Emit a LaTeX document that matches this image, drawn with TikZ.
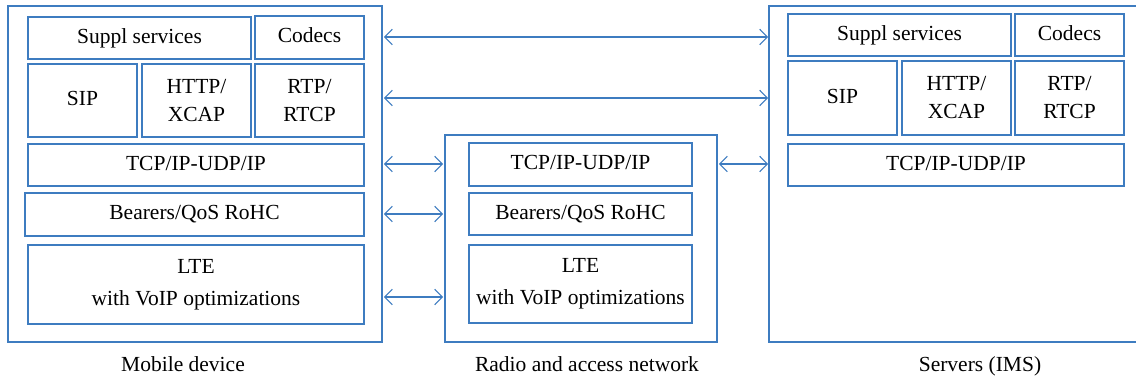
\documentclass[tikz,border=0pt]{standalone}
\usepackage{fontspec}
\setmainfont{Liberation Serif}
\usetikzlibrary{arrows.meta}
\definecolor{lineblue}{RGB}{62,124,192}
\tikzset{
  box/.style={draw=lineblue, line width=1.2pt, inner sep=0pt, outer sep=0pt, align=center,
    font=\fontsize{21.5}{28}\selectfont},
  one/.style={text height=14pt, text depth=3pt},
  outer/.style={draw=lineblue, line width=1.2pt, inner sep=0pt, outer sep=0pt},
  lbl/.style={font=\fontsize{21.5}{24}\selectfont, inner sep=0pt, anchor=base},
  arr/.style={draw=lineblue, line width=1.1pt, {Straight Barb[length=7.5pt,width=15.5pt]}-{Straight Barb[length=7.5pt,width=15.5pt]}}
}
\newcommand\mkbox[7][]{\node[box,#1, minimum width={(#5-#3)*1pt}, minimum height={(#6-#4)*1pt}] (#2) at ({(#3+#5)/2},{(#4+#6)/2}) {#7};}
\begin{document}
\begin{tikzpicture}[x=1pt,y=-1pt]
\useasboundingbox (0,0) rectangle (1136,379);
\clip (0,0) rectangle (1136,379);
% outer boxes
\mkbox[outer]{mob}{8}{6}{382}{342}{}
\mkbox[outer]{ran}{445}{135}{717}{342}{}
\mkbox[outer]{srv}{769}{6}{1145}{342}{}
% mobile device stack
\mkbox[one]{msup}{28}{17}{251}{59}{Suppl services}
\mkbox[one]{mcod}{255}{16}{364}{59}{Codecs}
\mkbox[one]{msip}{28}{64}{137}{137}{SIP}
\mkbox{mhttp}{142}{64}{251}{137}{HTTP/\\XCAP}
\mkbox{mrtp}{255}{64}{364}{137}{RTP/\\RTCP}
\mkbox[one]{mtcp}{28}{144}{364}{186}{TCP/IP-UDP/IP}
\mkbox[one]{mbear}{25}{193}{364}{236}{Bearers/QoS RoHC}
\mkbox[font=\fontsize{21.5}{32}\selectfont]{mlte}{28}{245}{364}{324}{LTE\\with VoIP optimizations}
% radio and access network
\mkbox[one]{rtcp}{469}{143}{692}{186}{TCP/IP-UDP/IP}
\mkbox[one]{rbear}{469}{193}{692}{235}{Bearers/QoS RoHC}
\mkbox[font=\fontsize{21.5}{32}\selectfont]{rlte}{469}{245}{692}{323}{LTE\\with VoIP optimizations}
% servers
\mkbox[one]{ssup}{788}{14}{1011}{56}{Suppl services}
\mkbox[one]{scod}{1015}{14}{1124}{56}{Codecs}
\mkbox[one]{ssip}{788}{61}{897}{135}{SIP}
\mkbox{shttp}{902}{61}{1011}{135}{HTTP/\\XCAP}
\mkbox{srtp}{1015}{61}{1124}{135}{RTP/\\RTCP}
\mkbox[one]{stcp}{788}{144}{1124}{186}{TCP/IP-UDP/IP}
% labels
\node[lbl] (lmob) at (183,372) {Mobile device};
\node[lbl] (lran) at (587,372) {Radio and access network};
\node[lbl] (lsrv) at (980,372) {Servers (IMS)};
% connectors
\draw[arr] ([xshift=2pt]mob.east |- 0,37) -- ([xshift=-1pt]srv.west |- 0,37);
\draw[arr] ([xshift=2pt]mob.east |- 0,98) -- ([xshift=-1pt]srv.west |- 0,98);
\draw[arr] ([xshift=2pt]mob.east |- 0,164) -- ([xshift=-2pt]ran.west |- 0,164);
\draw[arr] ([xshift=2pt]ran.east |- 0,164) -- ([xshift=-1pt]srv.west |- 0,164);
\draw[arr] ([xshift=2pt]mob.east |- 0,214) -- ([xshift=-2pt]ran.west |- 0,214);
\draw[arr] ([xshift=2pt]mob.east |- 0,297) -- ([xshift=-2pt]ran.west |- 0,297);
\end{tikzpicture}
\end{document}
